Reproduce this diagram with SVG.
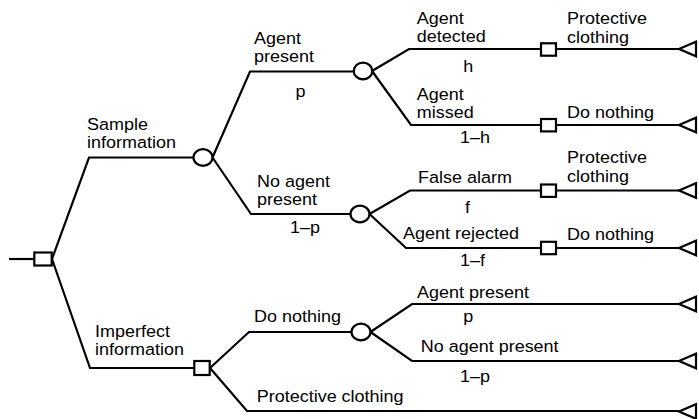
<svg xmlns="http://www.w3.org/2000/svg" width="699" height="419" viewBox="0 0 699 419">
  <style>
    .edge { fill: none; stroke: #000; stroke-width: 2.2; stroke-linejoin: miter; }
    .dec { fill: #fff; stroke: #000; stroke-width: 2.2; }
    .chance { fill: #fff; stroke: #000; stroke-width: 2.2; }
    .end { fill: #fff; stroke: #000; stroke-width: 2.2; stroke-linejoin: miter; }
    text { font-family: "Liberation Sans", Arial, Helvetica, sans-serif; font-size: 16.5px; fill: #000; }
  </style>

  <!-- branches of the decision tree -->
  <g id="connectors">
    <path class="edge" d="M9,259 H34"/>
    <path class="edge" d="M52,259 L89,157.5 H193.5"/>
    <path class="edge" d="M52,259 L90,368 H194"/>
    <path class="edge" d="M212.5,157.5 L250,71.5 H354"/>
    <path class="edge" d="M212.5,157.5 L251,214 H351"/>
    <path class="edge" d="M372,71 L409,49 H541"/>
    <path class="edge" d="M372,71 L411,125 H541"/>
    <path class="edge" d="M369.5,214 L410,190.5 H541"/>
    <path class="edge" d="M369.5,214 L406,248 H541"/>
    <path class="edge" d="M556,49 H679"/>
    <path class="edge" d="M556,125 H679"/>
    <path class="edge" d="M556,190.5 H679"/>
    <path class="edge" d="M556,248 H679"/>
    <path class="edge" d="M210,368 L249,332 H352"/>
    <path class="edge" d="M210,368 L247,411 H679"/>
    <path class="edge" d="M370.5,332 L412,304 H679"/>
    <path class="edge" d="M370.5,332 L412,361 H679"/>
  </g>

  <!-- decision nodes -->
  <g id="root"><rect class="dec" x="34.3" y="252.5" width="17.4" height="13"/></g>
  <g id="imperfect-decision"><rect class="dec" x="194.3" y="361" width="15.4" height="14"/></g>
  <g id="decision-detected"><rect class="dec" x="541" y="43.3" width="15" height="12.4"/></g>
  <g id="decision-missed"><rect class="dec" x="541" y="119" width="15" height="12.4"/></g>
  <g id="decision-false-alarm"><rect class="dec" x="541" y="184.5" width="15" height="12.4"/></g>
  <g id="decision-rejected"><rect class="dec" x="541" y="241.8" width="15" height="12.4"/></g>

  <!-- chance nodes -->
  <g id="chance-sample"><ellipse class="chance" cx="203" cy="157.5" rx="9.5" ry="8.3"/></g>
  <g id="chance-present"><ellipse class="chance" cx="363" cy="71" rx="9.3" ry="8.3"/></g>
  <g id="chance-absent"><ellipse class="chance" cx="360" cy="214" rx="9.5" ry="8.3"/></g>
  <g id="chance-nothing"><ellipse class="chance" cx="361" cy="332" rx="9.5" ry="8.3"/></g>

  <!-- terminal nodes -->
  <g id="end-1"><polygon class="end" points="679,49 696,41.7 696,56.3"/></g>
  <g id="end-2"><polygon class="end" points="679,125 696,117.7 696,132.3"/></g>
  <g id="end-3"><polygon class="end" points="679,190.5 696,183.2 696,197.8"/></g>
  <g id="end-4"><polygon class="end" points="679,248 696,240.7 696,255.3"/></g>
  <g id="end-5"><polygon class="end" points="679,304 696,296.7 696,311.3"/></g>
  <g id="end-6"><polygon class="end" points="679,361 696,353.7 696,368.3"/></g>
  <g id="end-7"><polygon class="end" points="679,411.5 696,404.2 696,418.8"/></g>

  <!-- branch labels (type is set slightly wide) -->
  <g id="labels">
    <text transform="translate(87 130) scale(1.09 1)">Sample</text>
    <text transform="translate(87 147.5) scale(1.09 1)">information</text>
    <text transform="translate(95 337) scale(1.09 1)">Imperfect</text>
    <text transform="translate(95 355) scale(1.09 1)">information</text>

    <text transform="translate(254 43.5) scale(1.09 1)">Agent</text>
    <text transform="translate(254 61.5) scale(1.09 1)">present</text>
    <text transform="translate(295.5 96.5) scale(1.09 1)">p</text>
    <text transform="translate(257 187.3) scale(1.09 1)">No agent</text>
    <text transform="translate(257 205) scale(1.09 1)">present</text>
    <text transform="translate(290 233) scale(1.09 1)">1–p</text>

    <text transform="translate(416.7 24) scale(1.09 1)">Agent</text>
    <text transform="translate(416.7 42) scale(1.09 1)">detected</text>
    <text transform="translate(463.3 71.7) scale(1.09 1)">h</text>
    <text transform="translate(416.7 100) scale(1.09 1)">Agent</text>
    <text transform="translate(416.7 118.3) scale(1.09 1)">missed</text>
    <text transform="translate(460 142.5) scale(1.09 1)">1–h</text>

    <text transform="translate(418 182.7) scale(1.09 1)">False alarm</text>
    <text transform="translate(465 212.7) scale(1.09 1)">f</text>
    <text transform="translate(403 239) scale(1.09 1)">Agent rejected</text>
    <text transform="translate(460 265.5) scale(1.09 1)">1–f</text>

    <text transform="translate(567 24) scale(1.09 1)">Protective</text>
    <text transform="translate(567 42.5) scale(1.09 1)">clothing</text>
    <text transform="translate(567 118.3) scale(1.09 1)">Do nothing</text>
    <text transform="translate(567 163.3) scale(1.09 1)">Protective</text>
    <text transform="translate(567 181.7) scale(1.09 1)">clothing</text>
    <text transform="translate(567 240) scale(1.09 1)">Do nothing</text>

    <text transform="translate(254 321.7) scale(1.09 1)">Do nothing</text>
    <text transform="translate(417 298.3) scale(1.09 1)">Agent present</text>
    <text transform="translate(463.3 321.7) scale(1.09 1)">p</text>
    <text transform="translate(420.7 351.7) scale(1.09 1)">No agent present</text>
    <text transform="translate(460 381.5) scale(1.09 1)">1–p</text>
    <text transform="translate(256.7 401.7) scale(1.09 1)">Protective clothing</text>
  </g>
</svg>
